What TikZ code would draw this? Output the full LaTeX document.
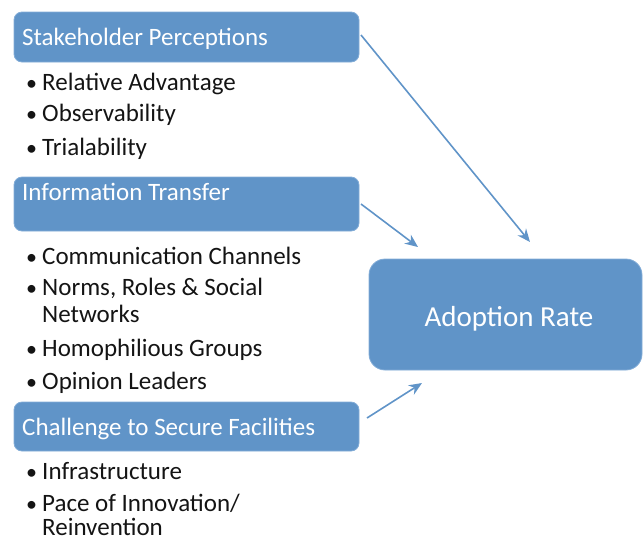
\documentclass[tikz,border=0pt]{standalone}
\usepackage{fontspec}
\setmainfont{Carlito}
\usetikzlibrary{arrows.meta}
\definecolor{boxblue}{RGB}{96,148,200}
\definecolor{boxedge}{RGB}{130,172,215}
\definecolor{txt}{RGB}{20,20,20}
\begin{document}
\begin{tikzpicture}[x=1pt,y=-1pt,
  catbox/.style={fill=boxblue,draw=boxedge,line width=0.8pt,rounded corners=8pt},
  bigbox/.style={fill=boxblue,draw=boxedge,line width=0.8pt,rounded corners=16pt},
  title/.style={font=\fontsize{25}{30}\selectfont,text=white,anchor=base west,inner sep=0pt},
  item/.style={font=\fontsize{25}{30}\selectfont,text=txt,anchor=base west,inner sep=0pt},
  bul/.style={font=\fontsize{22}{26}\selectfont,text=txt,anchor=base west,inner sep=0pt},
  link/.style={draw=boxblue,line width=1.6pt,-{Stealth[length=13pt,width=11pt]}}]
\useasboundingbox (0,0) rectangle (643,542);
% boxes
\draw[catbox] (14,12) rectangle (359,62);
\draw[catbox] (14,177) rectangle (359,231);
\draw[catbox] (14,402) rectangle (359,451);
\draw[bigbox] (369,259) rectangle (642,370);
\node[title] (t1) at (22,45) {Stakeholder Perceptions};
\node[title] (t2) at (22,200) {Information Transfer};
\node[title] (t3) at (22,435) {Challenge to Secure Facilities};
\node[font=\fontsize{29}{34}\selectfont,text=white,anchor=base,inner sep=0pt] (ar) at (509,326) {Adoption Rate};
% bullets group 1
\node[bul] (b1) at (26,90) {•}; \node[item] (i1) at (42,90) {Relative Advantage};
\node[bul] (b2) at (26,121) {•}; \node[item] (i2) at (42,121) {Observability};
\node[bul] (b3) at (26,155) {•}; \node[item] (i3) at (42,155) {Trialability};
% group 2
\node[bul] (b4) at (26,264) {•}; \node[item] (i4) at (42,264) {Communication Channels};
\node[bul] (b5) at (26,295) {•}; \node[item] (i5) at (42,295) {Norms, Roles \& Social};
\node[item] (i5b) at (42,322) {Networks};
\node[bul] (b6) at (26,356) {•}; \node[item] (i6) at (42,356) {Homophilious Groups};
\node[bul] (b7) at (26,389) {•}; \node[item] (i7) at (42,389) {Opinion Leaders};
% group 3
\node[bul] (b8) at (26,479) {•}; \node[item] (i8) at (42,479) {Infrastructure};
\node[bul] (b9) at (26,511) {•}; \node[item] (i9) at (42,511) {Pace of Innovation/};
\node[item] (i9b) at (42,535) {Reinvention};
% arrows
\coordinate (s1) at (361,35);
\coordinate (e1) at (530,242);
\coordinate (s2) at (361,204);
\coordinate (e2) at (418,247);
\coordinate (s3) at (367,418);
\coordinate (e3) at (422,383);
\draw[link] (s1) -- (e1);
\draw[link] (s2) -- (e2);
\draw[link] (s3) -- (e3);
\end{tikzpicture}
\end{document}
